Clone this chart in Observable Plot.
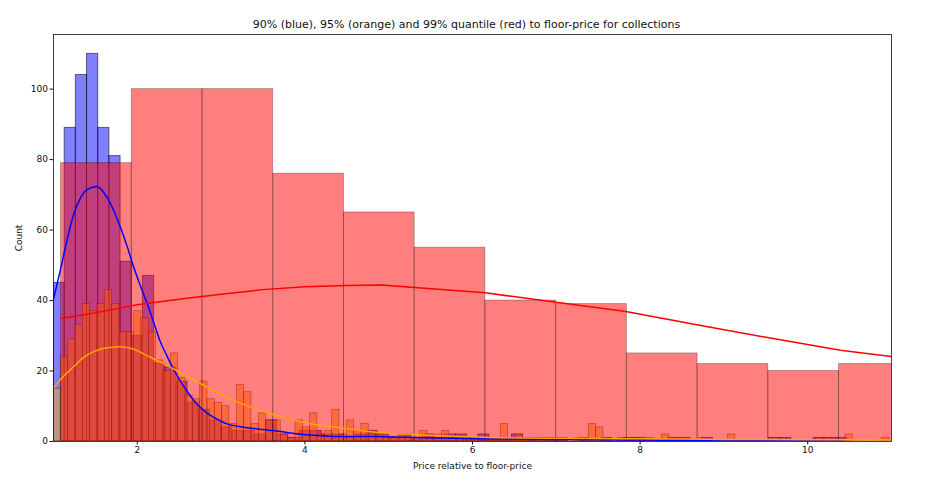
<!DOCTYPE html>
<html>
<head>
<meta charset="utf-8">
<script src="https://cdn.jsdelivr.net/npm/d3@7"></script>
<script src="https://cdn.jsdelivr.net/npm/@observablehq/plot@0.6"></script>
<style>
  html, body { margin: 0; padding: 0; background: #fff; overflow: hidden; }
  #title { width: 933px; height: 30px; box-sizing: border-box; padding-top: 19px; line-height: 11px;
           font-family: "DejaVu Sans", sans-serif; font-size: 11px; color: #111; text-align: center; overflow: visible; }
</style>
</head>
<body>
<div id="title">90% (blue), 95% (orange) and 99% quantile (red) to floor-price for collections</div>
<div id="chart"></div>
<script>
// ---- Histogram data (bin start, bin width, counts) ----
const blueStart = 1.0;
const blueWidth = 0.1334;
const blueCounts = [45, 89, 104, 110, 89, 81, 51, 30, 47, 22, 21, 17, 11, 9, 6, 4, 3, 3, 2, 6,
  2, 1, 3, 3, 2, 2, 1, 2, 3, 2, 1, 2, 1, 2, 1, 2, 2, 1, 2, 1,
  1, 2, 1, 1, 1, 1, 0, 1, 0, 1, 0, 1, 1, 0, 0, 1, 1, 0, 1, 0,
  0, 0, 0, 0, 1, 1, 0, 0, 1, 1, 1];

const orangeStart = 1.0;
const orangeWidth = 0.0875;
const orangeCounts = [15, 24, 29, 33, 39, 37, 39, 43, 39, 31, 31, 37, 35, 31, 23, 20, 25, 18, 13, 12,
  17, 12, 11, 10, 5, 16, 14, 5, 8, 6, 6, 2, 1, 6, 4, 8, 2, 3, 9, 2,
  6, 3, 5, 2, 2, 1, 1, 2, 1, 1, 3, 1, 2, 3, 1, 1, 1, 1, 0, 1,
  1, 5, 1, 2, 1, 0, 1, 1, 0, 1, 0, 1, 0, 5, 4, 1, 0, 1, 0, 1,
  0, 1, 0, 2, 1, 1, 0, 0, 1, 0, 0, 0, 2, 0, 0, 0, 0, 0, 1, 1,
  0, 0, 0, 0, 1, 1, 1, 0, 2, 0, 0, 0, 0, 1];

const redStart = 1.09;
const redWidth = 0.844;
const redCounts = [79, 100, 100, 76, 65, 55, 40, 39, 25, 22, 20, 22];

// ---- KDE curves ----
const blueKdeX = [1.0, 1.08, 1.16, 1.24, 1.32, 1.40, 1.52, 1.64, 1.72, 1.80, 1.88, 1.96, 2.04, 2.12, 2.20, 2.27, 2.35, 2.43, 2.51, 2.59, 2.67, 2.75, 2.83, 2.91, 3.07, 3.23, 3.62, 4.03, 4.42, 4.82, 5.22, 5.6, 6.0, 6.5, 7.0, 7.5, 8.0, 8.5, 9.0, 9.5, 10.0, 10.4];
const blueKdeY = [40.4, 48.4, 57.0, 64.4, 69.0, 71.5, 72.4, 69.2, 65.5, 60.7, 55.3, 49.3, 44.0, 39.0, 33.5, 28.6, 24.5, 20.6, 17.3, 14.4, 11.8, 9.7, 8.1, 6.9, 5.0, 4.2, 3.1, 1.9, 1.4, 1.4, 1.2, 1.0, 0.8, 0.7, 0.6, 0.5, 0.4, 0.35, 0.3, 0.25, 0.2, 0.15];

const orangeKdeX = [1.0, 1.12, 1.24, 1.36, 1.48, 1.64, 1.80, 1.96, 2.12, 2.27, 2.43, 2.59, 2.75, 2.91, 3.07, 3.23, 3.47, 3.63, 3.80, 4.03, 4.42, 4.82, 5.2, 5.6, 6.13, 7.13, 8.12, 9.0, 10.0, 11.0];
const orangeKdeY = [15.2, 18.5, 21.2, 23.9, 25.5, 26.6, 26.9, 26.2, 24.3, 22.6, 20.6, 18.5, 16.5, 14.5, 12.6, 10.9, 8.8, 7.6, 6.5, 5.2, 3.9, 2.7, 2.1, 1.6, 1.2, 0.9, 0.75, 0.6, 0.5, 0.45];

const redKdeX = [1.09, 1.5, 2.0, 2.5, 3.0, 3.5, 4.0, 4.5, 4.91, 5.31, 6.15, 7.0, 7.83, 8.66, 9.52, 10.39, 11.0, 11.5];
const redKdeY = [34.9, 36.5, 38.8, 40.4, 41.8, 43.1, 43.9, 44.3, 44.4, 43.7, 42.2, 39.5, 36.9, 33.2, 29.5, 25.9, 24.1, 22.6];

// ---- Axis ticks ----
const xTicks = [2, 4, 6, 8, 10];
const yTicks = [0, 20, 40, 60, 80, 100];

// ---- Build tables ----
const toBins = (start, width, counts) =>
  counts.map((c, i) => ({x1: start + i * width, x2: start + (i + 1) * width, y0: 0, y: c}))
        .filter(d => d.y > 0);
const toPts = (xs, ys) => xs.map((x, i) => ({x, y: ys[i]}));

const barStyle = (fill, sw, so) => ({x1: "x1", x2: "x2", y1: "y0", y2: "y", fill, fillOpacity: 0.5,
  stroke: "black", strokeOpacity: so, strokeWidth: sw, clip: true});

const chart = Plot.plot({
  width: 933,
  height: 473,
  marginLeft: 53,
  marginRight: 42,
  marginTop: 4,
  marginBottom: 62,
  x: {domain: [1, 11]},
  y: {domain: [0, 115.5]},
  style: {fontFamily: "DejaVu Sans, sans-serif", fontSize: "9px", color: "#111", background: "white", overflow: "visible"},
  marks: [
    Plot.rect(toBins(blueStart, blueWidth, blueCounts), barStyle("blue", 1, 0.55)),
    Plot.rect(toBins(orangeStart, orangeWidth, orangeCounts), barStyle("orange", 0.8, 0.4)),
    Plot.rect(toBins(redStart, redWidth, redCounts), barStyle("red", 0.9, 0.3)),
    Plot.line(toPts(blueKdeX, blueKdeY), {x: "x", y: "y", stroke: "blue", strokeWidth: 1.5, curve: "monotone-x", clip: true}),
    Plot.line(toPts(orangeKdeX, orangeKdeY), {x: "x", y: "y", stroke: "orange", strokeWidth: 1.5, curve: "monotone-x", clip: true}),
    Plot.line(toPts(redKdeX, redKdeY), {x: "x", y: "y", stroke: "red", strokeWidth: 1.5, clip: true}),
    Plot.frame({stroke: "#111", strokeWidth: 0.8}),
    Plot.axisX({ticks: xTicks, tickSize: 3.5, tickPadding: 2, label: "Price relative to floor-price",
      labelAnchor: "center", labelArrow: "none", labelOffset: 27}),
    Plot.axisY({ticks: yTicks, tickSize: 3.5, tickPadding: 2, label: "Count",
      labelAnchor: "center", labelArrow: "none", labelOffset: 38})
  ]
});
document.getElementById("chart").appendChild(chart);
</script>
</body>
</html>
